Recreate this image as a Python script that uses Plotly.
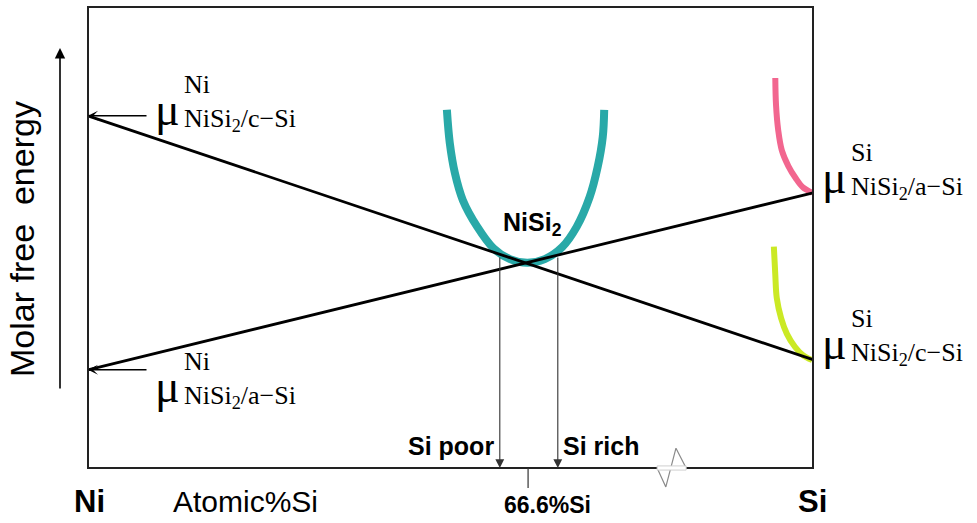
import plotly.graph_objects as go

# Schematic Gibbs free-energy diagram for NiSi2 against crystalline / amorphous Si.
# Composition axis: 0 = pure Ni, 100 = Si edge of the (broken) axis.
# Energy axis: arbitrary units, 0 at the composition axis, 100 at the frame top.

x_ends = [0, 100]
g_tangent_csi = [76.4, 23.5]   # common tangent NiSi2 / c-Si
g_tangent_asi = [21.3, 59.7]   # common tangent NiSi2 / a-Si

nisi2_x = [49.5, 49.9, 50.6, 51.7, 53.7, 55.9, 58.2, 60.6, 63.0, 65.4, 67.4, 69.2, 70.3, 71.0, 71.2]
nisi2_g = [77.7, 70.5, 64.0, 58.1, 52.3, 47.7, 45.3, 44.5, 45.3, 47.9, 52.3, 58.8, 65.3, 71.8, 77.7]

asi_x = [94.8, 94.9, 95.2, 95.7, 96.6, 97.6, 98.6, 99.9]
asi_g = [84.6, 78.7, 73.3, 68.9, 65.5, 62.9, 60.9, 59.7]

csi_x = [94.6, 94.8, 95.0, 95.6, 96.4, 97.5, 98.6, 99.9]
csi_g = [48.0, 41.9, 36.9, 32.5, 29.1, 26.3, 24.5, 23.4]

x_si_poor = 56.8
x_si_rich = 64.8
x_stoich = 60.7
g_tangent_top = 46.0

break_x = [78.5, 79.7, 81.1, 82.5]
break_y = [0.0, -4.1, 4.3, 0.0]

# figure geometry: the frame spans 725 x 461 px, placed at (88, 7)
W, H = 977, 523
X0, SX = 88, 7.25
Y0, SY = 468, 4.61


def fx(px):
    return (px - X0) / SX


def fy(py):
    return (Y0 - py) / SY


SANS = "Liberation Sans, Arial, sans-serif"
SERIF = "Liberation Serif, Times New Roman, serif"

fig = go.Figure()

# free-energy curves
fig.add_trace(go.Scatter(x=nisi2_x, y=nisi2_g, mode="lines",
                         line=dict(color="#29a9a8", width=8, shape="spline"),
                         hoverinfo="skip"))
fig.add_trace(go.Scatter(x=asi_x, y=asi_g, mode="lines",
                         line=dict(color="#f2668f", width=6, shape="spline"),
                         hoverinfo="skip"))
fig.add_trace(go.Scatter(x=csi_x, y=csi_g, mode="lines",
                         line=dict(color="#cbe925", width=6, shape="spline"),
                         hoverinfo="skip"))

# common tangents
for g in (g_tangent_csi, g_tangent_asi):
    fig.add_trace(go.Scatter(x=x_ends, y=g, mode="lines",
                             line=dict(color="black", width=2.8),
                             hoverinfo="skip"))

shapes = [
    dict(type="rect", xref="x", yref="y", x0=0, x1=100, y0=0, y1=100,
         line=dict(color="#222", width=2), layer="above"),
    # stoichiometry tick
    dict(type="line", xref="x", yref="y", x0=x_stoich, x1=x_stoich, y0=0, y1=fy(488),
         line=dict(color="#333", width=1.2)),
    # axis break
    dict(type="rect", xref="x", yref="y", x0=break_x[0], x1=break_x[-1], y0=-0.45, y1=0.45,
         line=dict(color="#cfcfcf", width=1), fillcolor="white", layer="above"),
]
fig.update_layout(shapes=shapes)

fig.add_trace(go.Scatter(x=break_x, y=break_y, mode="lines",
                         line=dict(color="#8a8a8a", width=1.2), hoverinfo="skip"))

ann = []


def arrow(x, y, ax, ay, width=1.2, color="black", head=2, size=1.0):
    ann.append(dict(x=x, y=y, ax=ax, ay=ay, xref="x", yref="y", axref="x", ayref="y",
                    text="", showarrow=True, arrowhead=head, arrowsize=size,
                    arrowwidth=width, arrowcolor=color, standoff=0, startstandoff=0))


# tangent-point projections on the composition axis
arrow(x_si_poor, 0, x_si_poor, g_tangent_top, width=1.1, color="#333", size=1.6)
arrow(x_si_rich, 0, x_si_rich, g_tangent_top, width=1.1, color="#333", size=1.6)
# chemical-potential pointers on the Ni side
arrow(0, g_tangent_csi[0], fx(148), g_tangent_csi[0], width=1.4, head=3, size=1.2)
arrow(0, g_tangent_asi[0], fx(148), g_tangent_asi[0], width=1.4, head=3, size=1.2)
# energy direction
arrow(fx(60), fy(48), fx(60), fy(390), width=1.6, size=1.3)


def text(t, px, py, size, family=SANS, xanchor="center", yanchor="middle", angle=0,
         bold=False, align="center"):
    if bold:
        t = "<b>" + t + "</b>"
    ann.append(dict(x=fx(px), y=fy(py), xref="x", yref="y", text=t, showarrow=False,
                    xanchor=xanchor, yanchor=yanchor, textangle=angle, align=align,
                    font=dict(family=family, size=size, color="black")))


def mu_label(px, py, sup, sub):
    # py: vertical centre of the subscript line; phase (sup) stacked over interface (sub)
    text("\u03bc", px - 2, py - 7, 46, family=SERIF, xanchor="left")
    text(sup + "<br>" + sub, px + 27, py - 13, 26, family=SERIF, xanchor="left", align="left")


mu_label(155, 116, "Ni", "NiSi<sub>2</sub>/c\u2212Si")
mu_label(155, 393, "Ni", "NiSi<sub>2</sub>/a\u2212Si")
mu_label(822, 184, "Si", "NiSi<sub>2</sub>/a\u2212Si")
mu_label(822, 350, "Si", "NiSi<sub>2</sub>/c\u2212Si")

text("Molar free\u00a0 energy", 22, 239, 34, angle=-90)
text("Ni", 89, 501, 31, bold=True)
text("Atomic%Si", 171, 501, 30, xanchor="left")
text("Si", 812, 501, 31, bold=True)
text("66.6%Si", 502, 505, 23, xanchor="left", bold=True)
text("Si poor", 496, 446, 25, xanchor="right", bold=True)
text("Si rich", 561, 446, 25, xanchor="left", bold=True)
text("NiSi<sub>2</sub>", 501, 224, 25, xanchor="left", bold=True)

fig.update_layout(
    annotations=ann,
    width=W, height=H,
    margin=dict(l=0, r=0, t=0, b=0),
    paper_bgcolor="white", plot_bgcolor="white",
    showlegend=False,
    xaxis=dict(range=[fx(0), fx(W)], visible=False, fixedrange=True),
    yaxis=dict(range=[fy(H), fy(0)], visible=False, fixedrange=True),
)

fig.write_html("out.html")
